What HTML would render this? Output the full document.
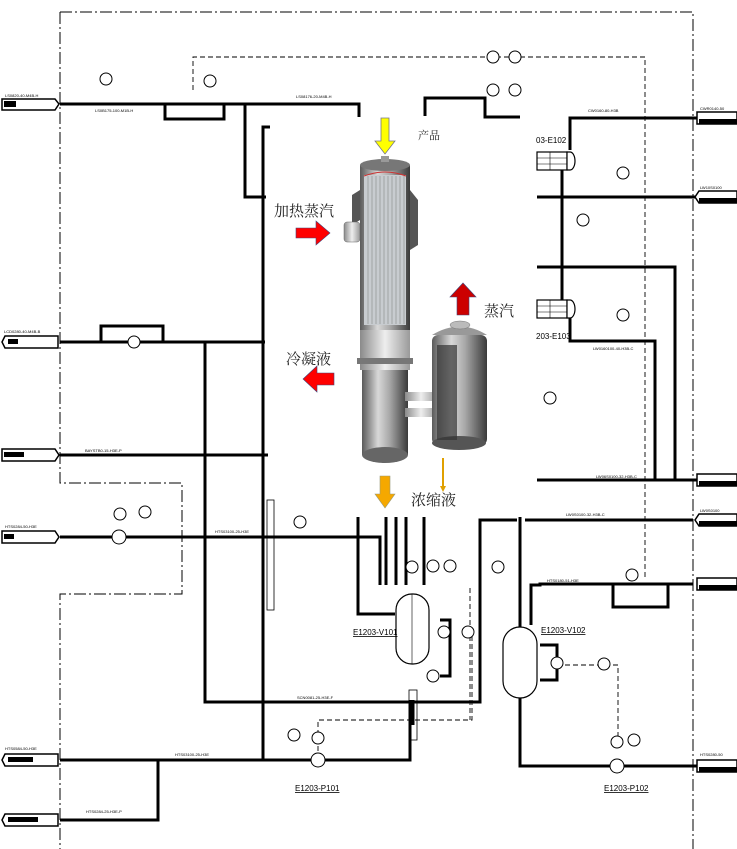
<!DOCTYPE html>
<html><head><meta charset="utf-8"><style>
html,body{margin:0;padding:0;background:#fff;}
svg{display:block;}
.t{font-family:"Liberation Sans",sans-serif;font-size:4px;fill:#000;}
.c{font-family:"Liberation Serif","Noto Serif CJK SC","Noto Sans CJK SC",serif;fill:#222;}
</style></head><body>
<svg width="737" height="849" viewBox="0 0 737 849" xmlns="http://www.w3.org/2000/svg">
<defs>
<linearGradient id="g" x1="0" x2="1"><stop offset="0" stop-color="#5a5a5a"/><stop offset="0.35" stop-color="#d8d8d8"/><stop offset="0.6" stop-color="#a8a8a8"/><stop offset="1" stop-color="#3a3a3a"/></linearGradient>
<linearGradient id="g2" x1="0" x2="1"><stop offset="0" stop-color="#8a8a8a"/><stop offset="0.5" stop-color="#eeeeee"/><stop offset="1" stop-color="#9a9a9a"/></linearGradient>
</defs>
<g fill="none" stroke="#000" stroke-width="1" stroke-dasharray="12,3,2,3">
<path d="M60 12H693V849"/>
<path d="M60 12V483H182V594H60V849"/>
</g>
<g fill="none" stroke="#000" stroke-width="0.9" stroke-dasharray="5,3">
<path d="M193 90V57H645V580"/>
<path d="M472 628V720H318V752"/>
<path d="M565 665H618V742"/>
<path d="M470 588V720"/>
</g>
<g fill="none" stroke="#000" stroke-width="3">
<path d="M60 104H359V117"/>
<path d="M165 104V119H224V104"/>
<path d="M245 104V197H266"/>
<path d="M270 127H263V760"/>
<path d="M60 342H265"/>
<path d="M101 342V326H163V342"/>
<path d="M205 342V702H480V520H517M525 520H693"/>
<path d="M60 455H268"/>
<path d="M60 537H380V585"/>
<path d="M60 760H410V700"/>
<path d="M158 760V820H60"/>
<path d="M358 517V614H395"/>
<path d="M386 517V585M396 517V585M406 517V585M424 517V585"/>
<path d="M413 700V725"/>
<path d="M425 116V98H485V117H520"/>
<path d="M570 150V118H737"/>
<path d="M537 197H737"/>
<path d="M537 267H675V480"/>
<path d="M570 318V341H655V480"/>
<path d="M537 480H737"/>
<path d="M562 170V300"/>
<path d="M520 517V698"/>
<path d="M520 698V766H737"/>
<path d="M531 625V585H540V584H693"/>
<path d="M613 584V607H668V584"/>
<path d="M440 620H450V676H440"/>
<path d="M540 645H557V680H540"/>
</g>
<g fill="#fff" stroke="#000" stroke-width="1.5">
<path d="M2 99H55L59 104L55 110H2Z"/>
<path d="M5 336H58V348H5L2 342Z"/>
<path d="M2 449H55L59 455L55 461H2Z"/>
<path d="M2 531H55L59 537L55 543H2Z"/>
<path d="M5 754H58V766H5L2 760Z"/>
<path d="M5 814H58V826H5L2 820Z"/>
<path d="M697 112H737V124H697Z"/>
<path d="M699 191H737V203H699L695 197Z"/>
<path d="M697 474H737V486H697Z"/>
<path d="M699 514H737V526H699L695 520Z"/>
<path d="M697 578H737V590H697Z"/>
<path d="M697 760H737V772H697Z"/>
</g>
<g fill="#000"><rect x="4" y="101" width="12" height="6"/><rect x="8" y="339" width="10" height="5"/><rect x="4" y="452" width="20" height="5"/><rect x="4" y="534" width="10" height="5"/><rect x="8" y="757" width="25" height="5"/><rect x="8" y="817" width="30" height="5"/>
<rect x="699" y="119" width="38" height="5"/><rect x="699" y="198" width="38" height="5"/><rect x="699" y="481" width="38" height="5"/><rect x="699" y="521" width="38" height="5"/><rect x="699" y="585" width="38" height="5"/><rect x="699" y="767" width="38" height="5"/></g>
<g fill="#fff" stroke="#000" stroke-width="1">
<circle cx="106" cy="79" r="6"/><circle cx="210" cy="81" r="6"/>
<circle cx="493" cy="57" r="6"/><circle cx="515" cy="57" r="6"/><circle cx="493" cy="90" r="6"/><circle cx="515" cy="90" r="6"/>
<circle cx="623" cy="173" r="6"/><circle cx="583" cy="220" r="6"/><circle cx="623" cy="315" r="6"/><circle cx="550" cy="398" r="6"/>
<circle cx="120" cy="514" r="6"/><circle cx="145" cy="512" r="6"/><circle cx="300" cy="522" r="6"/>
<circle cx="433" cy="566" r="6"/><circle cx="450" cy="566" r="6"/><circle cx="412" cy="567" r="6"/>
<circle cx="444" cy="632" r="6"/><circle cx="468" cy="632" r="6"/><circle cx="433" cy="676" r="6"/>
<circle cx="498" cy="567" r="6"/><circle cx="632" cy="575" r="6"/><circle cx="557" cy="663" r="6"/><circle cx="604" cy="664" r="6"/>
<circle cx="294" cy="735" r="6"/><circle cx="318" cy="738" r="6"/><circle cx="617" cy="742" r="6"/><circle cx="634" cy="740" r="6"/>
<circle cx="119" cy="537" r="7"/><circle cx="318" cy="760" r="7"/><circle cx="617" cy="766" r="7"/><circle cx="134" cy="342" r="6"/>
</g>
<g fill="#fff" stroke="#000" stroke-width="1.2">
<rect x="396" y="594" width="33" height="70" rx="16"/>
<rect x="503" y="627" width="34" height="71" rx="17"/>
<rect x="537" y="152" width="30" height="18"/><rect x="537" y="300" width="30" height="18"/>
<path d="M567 152h3a5 9 0 0 1 0 18h-3z"/><path d="M567 300h3a5 9 0 0 1 0 18h-3z"/>
</g>
<g stroke="#000" stroke-width="0.6"><path d="M537 158H567M537 164H567M550 152V170M537 306H567M537 312H567M550 300V318M412 594V664"/></g>
<rect x="267" y="500" width="7" height="110" fill="none" stroke="#000" stroke-width="0.8"/>
<rect x="409" y="690" width="8" height="50" fill="none" stroke="#000" stroke-width="0.8"/>
<text class="t" x="353" y="635" style="font-size:8px;text-decoration:underline">E1203-V101</text>
<text class="t" x="541" y="633" style="font-size:8px;text-decoration:underline">E1203-V102</text>
<text class="t" x="295" y="791" style="font-size:8px;text-decoration:underline">E1203-P101</text>
<text class="t" x="604" y="791" style="font-size:8px;text-decoration:underline">E1203-P102</text>
<text class="t" x="536" y="143" style="font-size:8px">03-E102</text>
<text class="t" x="536" y="339" style="font-size:8px">203-E103</text>
<g class="t"><text x="5" y="97">LS0820-40-M4B-H</text><text x="95" y="112">LS0B175-100-M1B-H</text><text x="296" y="98">LS08176-20-M4B-H</text><text x="4" y="333">LCD0280-40-M4B-B</text><text x="85" y="452">BAYSTB0-15-H3E-P</text><text x="5" y="528">HTS0284-50-H3E</text><text x="215" y="533">HTS03100-25-H3E</text><text x="5" y="750">HTS0584-50-H3E</text><text x="86" y="813">HTS0284-25-H3E-P</text><text x="175" y="756">HTS03100-25-H3E</text><text x="297" y="699">SCN0081-25-H3E-F</text><text x="588" y="112">CW0160-80-H3B</text><text x="596" y="478">LW06S0100-32-H3B-C</text><text x="566" y="516">LW0S0100-32-H3B-C</text><text x="547" y="582">HTS0180-51-H3E</text><text x="593" y="350">LW0160100-40-H3B-C</text><text x="700" y="110">CWR0140-50</text><text x="700" y="189">LW10S0100</text><text x="700" y="512">LW0S0100</text><text x="700" y="756">HTS0280-50</text></g>
<g>
<rect x="360" y="165" width="50" height="170" fill="url(#g)"/>
<rect x="364" y="175" width="42" height="150" fill="#c8ccd0"/>
<g stroke="#888" stroke-width="0.6"><path d="M368 176V324M372 176V324M376 176V324M380 176V324M384 176V324M388 176V324M392 176V324M396 176V324M400 176V324M404 176V324"/></g>
<path d="M364 176Q385 168 406 176" stroke="#c33" fill="none" stroke-width="1"/>
<ellipse cx="385" cy="165" rx="25" ry="6" fill="#777"/>
<rect x="381" y="156" width="8" height="6" fill="#999"/>
<path d="M352 195L360 190V220L352 225Z M410 190L418 200V245L410 250Z" fill="#555"/>
<rect x="344" y="222" width="16" height="20" rx="3" fill="url(#g2)" stroke="#666" stroke-width="0.5"/>
<rect x="360" y="330" width="50" height="40" fill="url(#g2)"/>
<rect x="357" y="358" width="56" height="6" fill="#777"/>
<rect x="362" y="370" width="46" height="85" fill="url(#g)"/>
<ellipse cx="385" cy="455" rx="23" ry="8" fill="#666"/>
<rect x="405" y="392" width="32" height="9" fill="url(#g2)"/>
<rect x="405" y="408" width="32" height="9" fill="url(#g2)"/>
<rect x="432" y="335" width="55" height="110" rx="6" fill="url(#g)"/>
<ellipse cx="459" cy="443" rx="27" ry="7" fill="#555"/>
<path d="M432 335Q460 318 487 335" fill="#999"/>
<ellipse cx="460" cy="325" rx="10" ry="4" fill="#bbb" stroke="#777" stroke-width="0.5"/>
<rect x="437" y="345" width="20" height="95" fill="#333" opacity="0.7"/>
</g>
<path d="M381 118H389V141H395L385 154L375 141H381Z" fill="#ff0" stroke="#778" stroke-width="0.8"/>
<path d="M296 228H316V221L330 233L316 245V238H296Z" fill="#f00" stroke="#447" stroke-width="0.6"/>
<path d="M334 373H317V366L303 379L317 392V385H334Z" fill="#f00" stroke="#447" stroke-width="0.6"/>
<path d="M457 315H469V297H476L463 283L450 297H457Z" fill="#c00" stroke="#447" stroke-width="0.6"/>
<path d="M380 476H390V494H395L385 508L375 494H380Z" fill="#f5a800" stroke="#997" stroke-width="0.6"/>
<path d="M443 458V488" stroke="#e0a000" stroke-width="2"/><path d="M440 486L443 492L446 486Z" fill="#e0a000"/>
<text class="c" x="418" y="139" font-size="11">产品</text>
<text class="c" x="274" y="216" font-size="15">加热蒸汽</text>
<text class="c" x="286" y="364" font-size="15">冷凝液</text>
<text class="c" x="484" y="316" font-size="15">蒸汽</text>
<text class="c" x="411" y="505" font-size="15">浓缩液</text>
</svg>
</body></html>
